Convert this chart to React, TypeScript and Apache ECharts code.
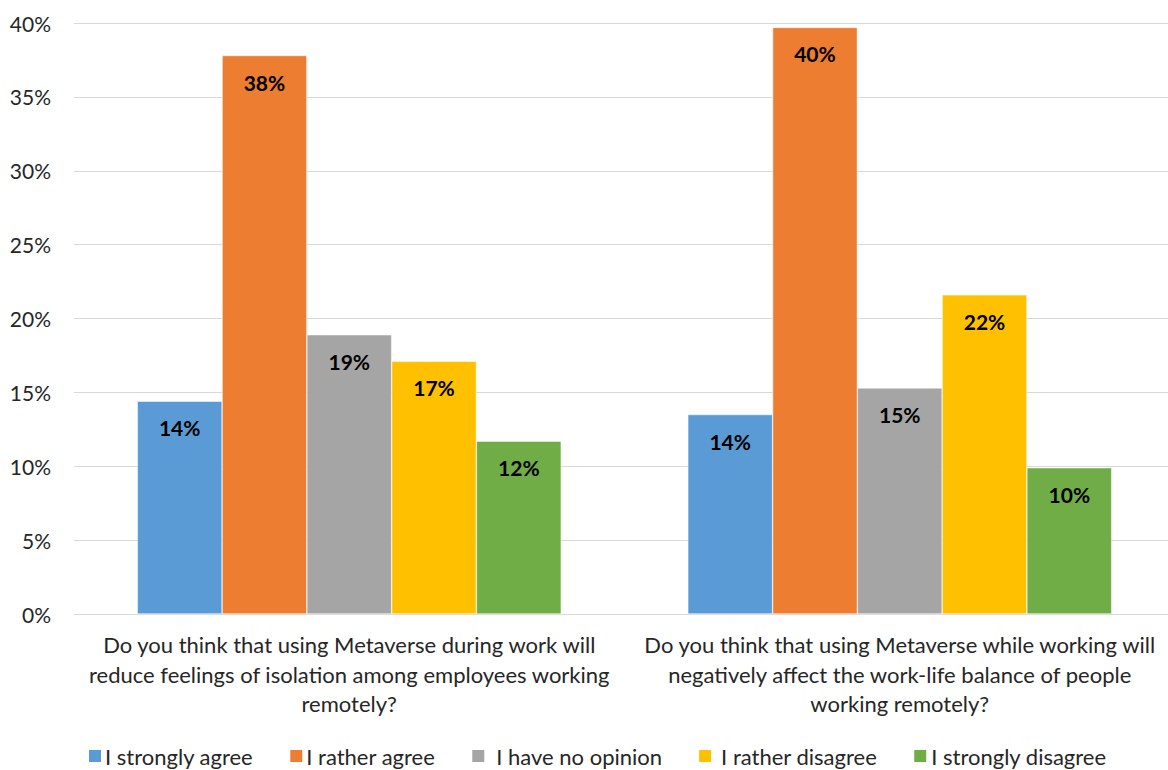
import React, { useEffect, useRef } from "react";
import * as echarts from "echarts";

const categories = [
  "Do you think that using Metaverse during work will\nreduce feelings of isolation among employees working\nremotely?",
  "Do you think that using Metaverse while working will\nnegatively affect the work-life balance of people\nworking remotely?",
];
const seriesNames = [
  "I strongly agree",
  "I rather agree",
  "I have no opinion",
  "I rather disagree",
  "I strongly disagree",
];
const stronglyAgree = [14.4, 13.5];
const ratherAgree = [37.8, 39.7];
const noOpinion = [18.9, 15.3];
const ratherDisagree = [17.1, 21.6];
const stronglyDisagree = [11.7, 9.9];
const colors = ["#5B9BD5", "#ED7D31", "#A5A5A5", "#FFC000", "#70AD47"];
const yTicks = { min: 0, max: 40, interval: 5 };
const legendTextShift = [-2, -2, 6, 4, -1];
const legendTextTail = [0, 0, 0, 4, 0];

const FONT = "Lato, 'Open Sans', sans-serif";

export default function App() {
  const ref = useRef<HTMLDivElement>(null);
  useEffect(() => {
    if (!ref.current) return;
    const chart = echarts.init(ref.current, undefined, { renderer: "svg" });
    const data = [stronglyAgree, ratherAgree, noOpinion, ratherDisagree, stronglyDisagree];
    chart.setOption({
      animation: false,
      backgroundColor: "#ffffff",
      textStyle: { fontFamily: FONT },
      grid: {
        left: 74,
        width: 1101,
        top: 23,
        height: 591,
        containLabel: false,
        outerBoundsMode: "none",
      },
      legend: {
        left: 82,
        top: 740,
        itemWidth: 14,
        itemHeight: 14,
        itemGap: 35,
        icon: "rect",
        textStyle: { fontFamily: FONT, fontSize: 22, color: "#262626" },
        data: seriesNames.map((name, i) => ({
          name,
          textStyle: { padding: [0, legendTextTail[i], 0, legendTextShift[i]] },
        })),
      },
      xAxis: {
        type: "category",
        data: categories,
        axisLine: { show: true, lineStyle: { color: "#d9d9d9", width: 1 } },
        axisTick: { show: false },
        axisLabel: {
          interval: 0,
          margin: 16,
          fontFamily: FONT,
          fontSize: 22,
          lineHeight: 29.5,
          color: "#262626",
          align: "center",
        },
      },
      yAxis: {
        type: "value",
        min: yTicks.min,
        max: yTicks.max,
        interval: yTicks.interval,
        axisLine: { show: false },
        axisTick: { show: false },
        splitLine: { lineStyle: { color: "#d9d9d9", width: 1 } },
        axisLabel: {
          formatter: "{value}%",
          margin: 23,
          fontFamily: FONT,
          fontSize: 21,
          color: "#262626",
        },
      },
      series: seriesNames.map((name, i) => ({
        name,
        type: "bar",
        data: data[i],
        barGap: "0%",
        barCategoryGap: "23%",
        itemStyle: { color: colors[i], borderColor: "#ffffff", borderWidth: 0.5 },
        label: {
          show: true,
          position: "insideTop",
          distance: 16,
          fontFamily: FONT,
          fontSize: 21,
          fontWeight: "bold",
          color: "#000000",
          formatter: (p: any) => Math.round(p.value) + "%",
        },
      })),
    });
    return () => chart.dispose();
  }, []);
  return (
    <div
      ref={ref}
      style={{ position: "absolute", left: 0, top: 0, width: 1168, height: 770 }}
    />
  );
}
